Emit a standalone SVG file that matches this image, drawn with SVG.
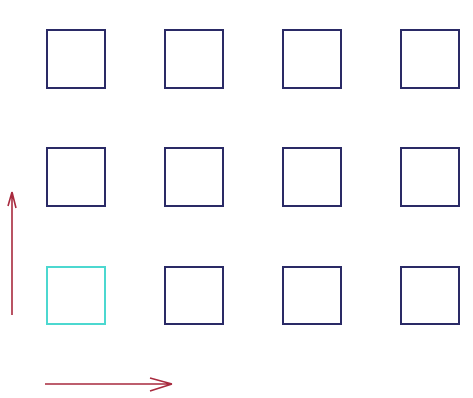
<svg xmlns="http://www.w3.org/2000/svg" width="473" height="398" viewBox="0 0 473 398">
<style>
.sq{fill:none;stroke:#2a2a66;stroke-width:2}
.cur{fill:none;stroke:#4cd8d0;stroke-width:2}
.ar{fill:none;stroke:#a82a3e;stroke-width:1.6}
</style>
<rect width="473" height="398" fill="#ffffff"/>
<g id="n11"><rect class="sq" x="47" y="30" width="58" height="58"/></g>
<g id="n12"><rect class="sq" x="165" y="30" width="58" height="58"/></g>
<g id="n13"><rect class="sq" x="283" y="30" width="58" height="58"/></g>
<g id="n14"><rect class="sq" x="401" y="30" width="58" height="58"/></g>
<g id="n21"><rect class="sq" x="47" y="148" width="58" height="58"/></g>
<g id="n22"><rect class="sq" x="165" y="148" width="58" height="58"/></g>
<g id="n23"><rect class="sq" x="283" y="148" width="58" height="58"/></g>
<g id="n24"><rect class="sq" x="401" y="148" width="58" height="58"/></g>
<g id="n31"><rect class="cur" x="47" y="267" width="58" height="57"/></g>
<g id="n32"><rect class="sq" x="165" y="267" width="58" height="57"/></g>
<g id="n33"><rect class="sq" x="283" y="267" width="58" height="57"/></g>
<g id="n34"><rect class="sq" x="401" y="267" width="58" height="57"/></g>
<g id="connectors">
<path class="ar" d="M12 315 L12 192 M12 192 L8 206 M12 192 L16 208"/>
<path class="ar" d="M45 384 L172 384 M172 384 L150 378 M172 384 L150 391"/>
</g>
</svg>
